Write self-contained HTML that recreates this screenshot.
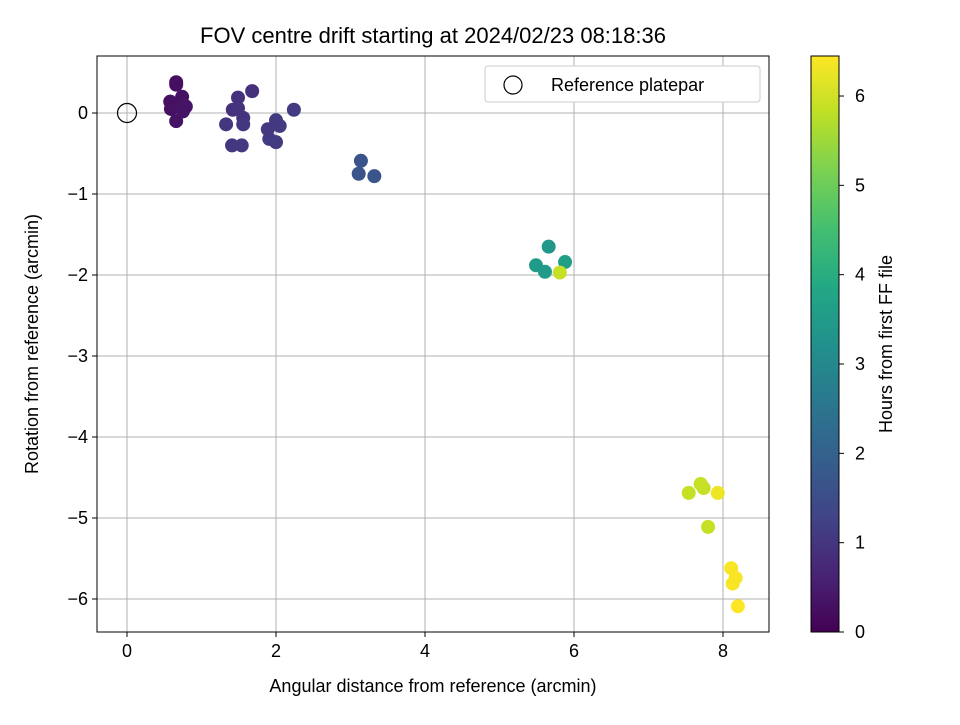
<!DOCTYPE html>
<html><head><meta charset="utf-8"><style>
body{margin:0;background:#fff}
svg text{font-family:"Liberation Sans","DejaVu Sans",sans-serif;fill:#000}
</style></head><body>
<svg id="chart" width="960" height="720">
<rect width="960" height="720" fill="#fff"/>
<defs><linearGradient id="vir" x1="0" y1="1" x2="0" y2="0">
<stop offset="0" stop-color="#440154"/><stop offset="0.1" stop-color="#482475"/><stop offset="0.2" stop-color="#414487"/><stop offset="0.3" stop-color="#355f8d"/><stop offset="0.4" stop-color="#2a788e"/><stop offset="0.5" stop-color="#21918c"/><stop offset="0.6" stop-color="#22a884"/><stop offset="0.7" stop-color="#44bf70"/><stop offset="0.8" stop-color="#7ad151"/><stop offset="0.9" stop-color="#bddf26"/><stop offset="1" stop-color="#fde725"/>
</linearGradient></defs>
<g id="grid"></g>
<g id="marks"></g>
<rect x="97" y="56" width="672" height="576" fill="none" stroke="#000" stroke-width="1"/>
<g id="ticks"></g>
<text x="433" y="43" font-size="22" text-anchor="middle">FOV centre drift starting at 2024/02/23 08:18:36</text>
<text x="433" y="692" font-size="18" text-anchor="middle">Angular distance from reference (arcmin)</text>
<text x="38" y="344" font-size="18" text-anchor="middle" transform="rotate(-90 38 344)">Rotation from reference (arcmin)</text>
<g>
<rect x="485" y="66" width="275" height="36" rx="3" fill="#fff" stroke="#ccc"/>
<circle cx="513" cy="85" r="9" fill="none" stroke="#000" stroke-width="1.2"/>
<text x="551" y="91" font-size="18">Reference platepar</text>
</g>
<rect x="811" y="56" width="28" height="576" fill="url(#vir)" stroke="#000"/>
<g id="cbticks"></g>
<text x="892" y="344" font-size="18" text-anchor="middle" transform="rotate(-90 892 344)">Hours from first FF file</text>
</svg>
<script>
const xs=[0.66,0.66,0.58,0.59,0.74,0.75,0.79,0.75,0.66, 1.68,1.49,1.42,1.49,1.56,1.56,1.33,1.41,1.54,2.0,2.05,2.24,1.89,1.91,2.0, 3.14,3.11,3.32, 5.66,5.49,5.61,5.88,5.81, 7.54,7.7,7.74,7.93,7.8,8.11,8.17,8.13,8.2];
const ys=[0.38,0.35,0.14,0.05,0.2,0.11,0.08,0.02,-0.1, 0.27,0.19,0.04,0.06,-0.06,-0.14,-0.14,-0.4,-0.4,-0.09,-0.16,0.04,-0.2,-0.32,-0.36, -0.59,-0.75,-0.78, -1.65,-1.88,-1.96,-1.84,-1.97, -4.69,-4.58,-4.63,-4.69,-5.11,-5.62,-5.74,-5.81,-6.09];
const hours=[0.25,0.25,0.3,0.3,0.3,0.3,0.35,0.35,0.35, 0.9,0.9,0.9,0.95,0.95,1.0,1.0,1.0,1.05,1.1,1.1,1.1,1.05,1.1,1.1, 1.65,1.7,1.7, 3.4,3.5,3.5,3.6,5.9, 5.9,5.9,5.9,6.3,5.9,6.4,6.4,6.4,6.45];
const xTicks=[0,2,4,6,8];
const yTicks=[0,-1,-2,-3,-4,-5,-6];
const cTicks=[0,1,2,3,4,5,6];
const X=v=>127+v*74.5, Y=v=>113-v*81, C=v=>632-v*89.33, CMAX=6.45;
const stops=["#440154","#482475","#414487","#355f8d","#2a788e","#21918c","#22a884","#44bf70","#7ad151","#bddf26","#fde725"];
function hex(h){return [1,3,5].map(i=>parseInt(h.substr(i,2),16));}
function vir(t){t=Math.max(0,Math.min(1,t))*10;const i=Math.min(9,Math.floor(t)),f=t-i;const a=hex(stops[i]),b=hex(stops[i+1]);return "rgb("+a.map((v,k)=>Math.round(v+(b[k]-v)*f)).join(",")+")";}
const NS="http://www.w3.org/2000/svg";
function mk(tag,attrs,parent,txt){const e=document.createElementNS(NS,tag);for(const k in attrs)e.setAttribute(k,attrs[k]);if(txt!==undefined)e.textContent=txt;document.getElementById(parent).appendChild(e);return e;}
const fmt=v=>v<0?"\u2212"+(-v):""+v;
xTicks.forEach(v=>{
 const g=mk("line",{x1:X(v),x2:X(v),y1:56,y2:632,stroke:"#b0b0b0","stroke-width":1},"grid");
 
 
 mk("line",{x1:X(v),x2:X(v),y1:632,y2:637,stroke:"#000"},"ticks");
 const t=mk("text",{x:X(v),y:657,"font-size":18,"text-anchor":"middle"},"ticks",fmt(v));
 
 
});
yTicks.forEach(v=>{
 const g=mk("line",{x1:97,x2:769,y1:Y(v),y2:Y(v),stroke:"#b0b0b0","stroke-width":1},"grid");
 
 
 mk("line",{x1:92,x2:97,y1:Y(v),y2:Y(v),stroke:"#000"},"ticks");
 const t=mk("text",{x:88,y:Y(v)+6,"font-size":18,"text-anchor":"end"},"ticks",fmt(v));
 
 
});
cTicks.forEach(v=>{
 mk("line",{x1:839,x2:844,y1:C(v),y2:C(v),stroke:"#000"},"cbticks");
 const t=mk("text",{x:855,y:C(v)+6,"font-size":18},"cbticks",""+v);
 
 
});
xs.forEach((x,i)=>{
 const c=mk("circle",{cx:X(x),cy:Y(ys[i]),r:7,fill:vir(hours[i]/CMAX)},"marks");
 
 
});
const r=mk("circle",{cx:X(0),cy:Y(0),r:9.5,fill:"none",stroke:"#000","stroke-width":1.2},"marks");


</script>
</body></html>
